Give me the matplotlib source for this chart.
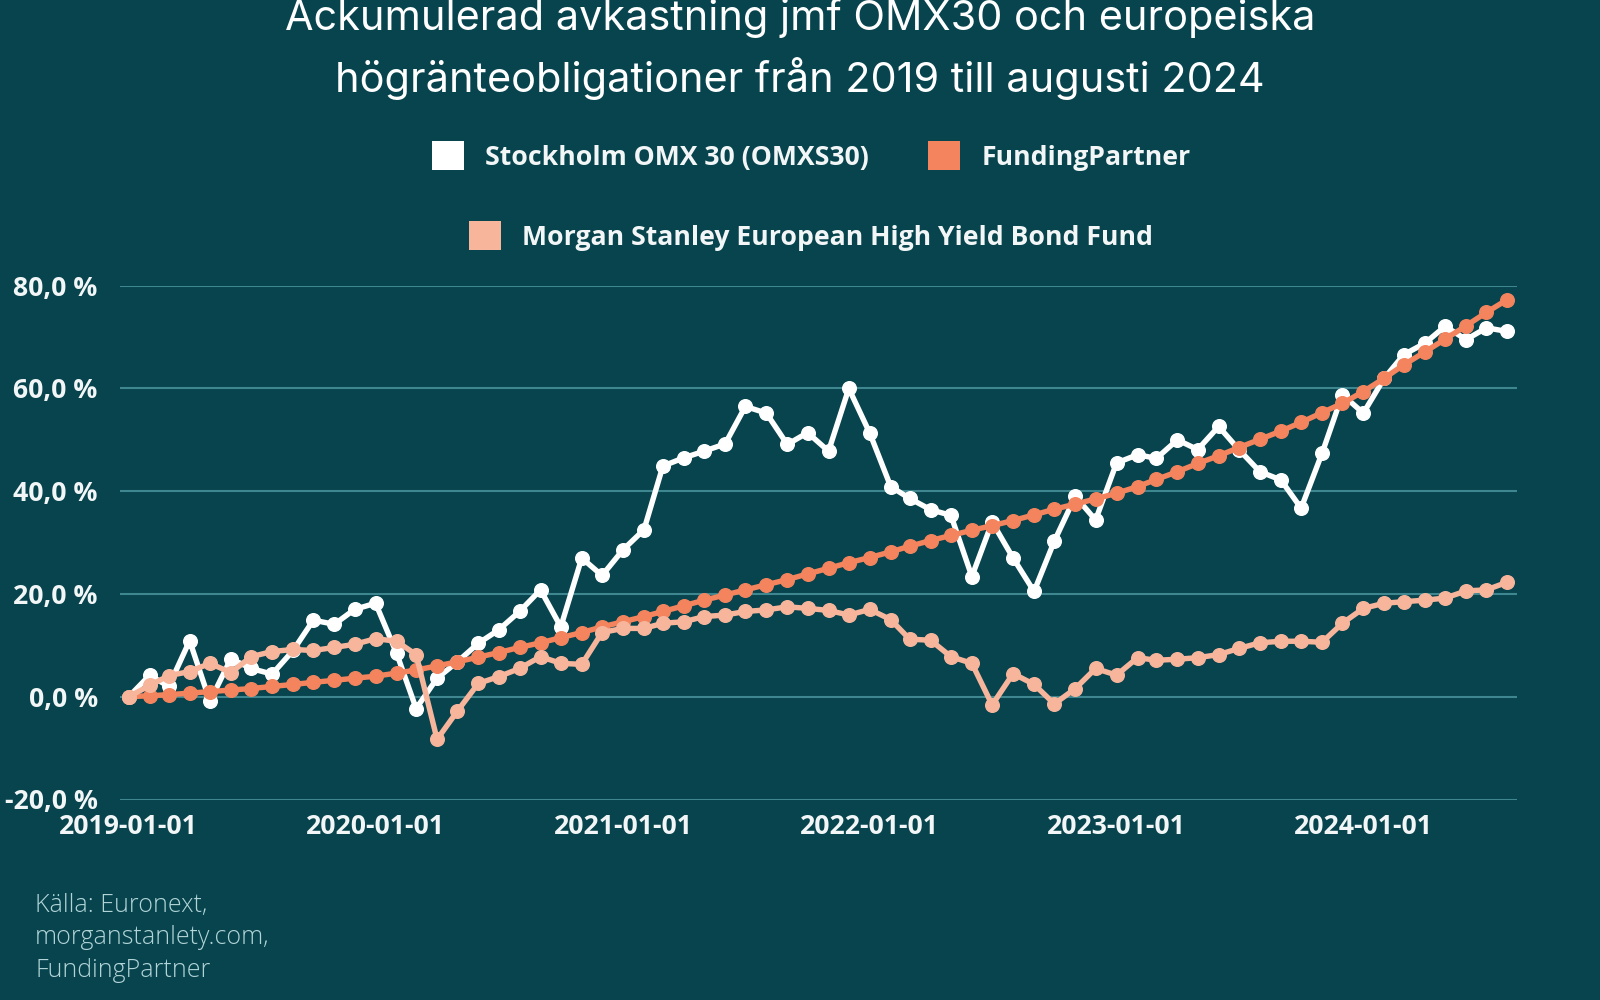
import numpy as np
import pandas as pd
import matplotlib
matplotlib.use("Agg")
import matplotlib.pyplot as plt
import matplotlib.dates as mdates
from matplotlib.patches import Patch

# monthly observations, 2019-01 .. 2024-08 (accumulated return in %)
months = pd.date_range("2019-01-01", "2024-08-01", freq="MS")

omx = [0.0, 4.2, 2.0, 10.9, -0.9, 7.4, 5.5, 4.4, 9.0, 14.9, 14.1, 17.0,
       18.2, 8.5, -2.3, 3.6, 6.8, 10.4, 13.0, 16.6, 20.8, 13.6, 27.0, 23.6,
       28.6, 32.5, 44.9, 46.5, 47.8, 49.2, 56.5, 55.2, 49.1, 51.4, 47.8, 60.0,
       51.3, 40.9, 38.6, 36.4, 35.3, 23.4, 34.0, 27.0, 20.5, 30.3, 39.0, 34.4,
       45.5, 47.1, 46.4, 50.0, 48.1, 52.6, 48.1, 43.8, 42.2, 36.7, 47.4, 58.8,
       55.2, 62.0, 66.6, 68.8, 72.1, 69.5, 71.8, 71.1]

fundingpartner = [0.0, 0.2, 0.4, 0.7, 1.0, 1.3, 1.6, 2.0, 2.4, 2.8, 3.2, 3.6,
                  4.0, 4.6, 5.2, 6.0, 6.8, 7.7, 8.6, 9.6, 10.5, 11.5, 12.5, 13.6,
                  14.6, 15.6, 16.6, 17.7, 18.8, 19.8, 20.8, 21.8, 22.8, 23.9, 25.0, 26.1,
                  27.1, 28.2, 29.3, 30.4, 31.4, 32.4, 33.3, 34.3, 35.4, 36.5, 37.5, 38.5,
                  39.6, 40.9, 42.3, 43.8, 45.4, 46.9, 48.5, 50.1, 51.7, 53.4, 55.3, 57.1,
                  59.4, 62.0, 64.6, 67.1, 69.6, 72.2, 74.8, 77.3]

morgan_stanley = [0.0, 2.2, 4.1, 4.9, 6.5, 4.7, 7.8, 8.8, 9.2, 9.0, 9.6, 10.2,
                  11.3, 10.8, 8.2, -8.3, -2.8, 2.6, 3.9, 5.5, 7.8, 6.5, 6.3, 12.5,
                  13.3, 13.3, 14.3, 14.6, 15.6, 15.9, 16.6, 16.9, 17.5, 17.2, 16.8, 15.9,
                  17.0, 15.0, 11.2, 11.0, 7.8, 6.5, -1.6, 4.5, 2.4, -1.4, 1.6, 5.5,
                  4.2, 7.6, 7.1, 7.3, 7.6, 8.2, 9.4, 10.5, 10.8, 10.8, 10.6, 14.3,
                  17.2, 18.2, 18.5, 18.8, 19.2, 20.6, 20.8, 22.3]

labels = ["Stockholm OMX 30 (OMXS30)", "FundingPartner",
          "Morgan Stanley European High Yield Bond Fund"]
yticks = [-20, 0, 20, 40, 60, 80]
ytick_labels = ["-20,0 %", "0,0 %", "20,0 %", "40,0 %", "60,0 %", "80,0 %"]

bg = "#07444e"
grid_col = "#3e8690"
c_omx = "#ffffff"
c_fp = "#f3845d"
c_ms = "#f7b59c"

fig = plt.figure(figsize=(16, 10), dpi=100, facecolor=bg)
ax = fig.add_axes([0.075, 0.2005, 0.873, 0.5138])
ax.set_facecolor(bg)

style = dict(lw=3.9, marker="o", ms=9.8, solid_joinstyle="round", solid_capstyle="round")
ax.plot(months, omx, color=c_omx, zorder=3, **style)
ax.plot(months, fundingpartner, color=c_fp, zorder=4, **style)
ax.plot(months, morgan_stanley, color=c_ms, zorder=5, **style)

ax.set_ylim(-20, 80)
ax.set_yticks(yticks)
ax.set_yticklabels(ytick_labels)
ax.set_xlim(pd.Timestamp("2018-12-19"), pd.Timestamp("2024-08-15"))
ax.xaxis.set_major_locator(mdates.YearLocator())
ax.xaxis.set_major_formatter(mdates.DateFormatter("%Y-%m-%d"))

ax.grid(axis="y", color=grid_col, lw=1.5)
ax.set_axisbelow(True)
for s in ax.spines.values():
    s.set_visible(False)
ax.tick_params(length=0, colors="#f2f6f6", labelsize=19.2)
ax.tick_params(axis="y", pad=16)
ax.tick_params(axis="x", pad=10.5)
for t in ax.get_xticklabels() + ax.get_yticklabels():
    t.set_family("Open Sans")
    t.set_fontweight("bold")

fig.text(0.5, 0.951,
         "Ackumulerad avkastning jmf OMX30 och europeiska\nhögränteobligationer från 2019 till augusti 2024",
         ha="center", va="center", color="white", fontsize=29.8, family="Inter",
         linespacing=1.56)

leg_kw = dict(loc="center", frameon=False, handlelength=1.2, handleheight=1.25,
              handletextpad=0.8, columnspacing=2.2,
              prop={"family": "Open Sans", "weight": "bold", "size": 19.2},
              labelcolor="#f2f6f6")
h1 = [Patch(facecolor=c_omx, label=labels[0]), Patch(facecolor=c_fp, label=labels[1])]
fig.legend(handles=h1, ncol=2, bbox_to_anchor=(0.507, 0.844), **leg_kw)
h2 = [Patch(facecolor=c_ms, label=labels[2])]
fig.legend(handles=h2, ncol=1, bbox_to_anchor=(0.507, 0.764), **leg_kw)

fig.text(0.022, 0.062, "Källa: Euronext,\nmorganstanlety.com,\nFundingPartner",
         ha="left", va="center", color="#b2d4d7", fontsize=18,
         family="Open Sans", fontweight="light", linespacing=1.42)

fig.savefig("out.png", dpi=100, facecolor=bg)
